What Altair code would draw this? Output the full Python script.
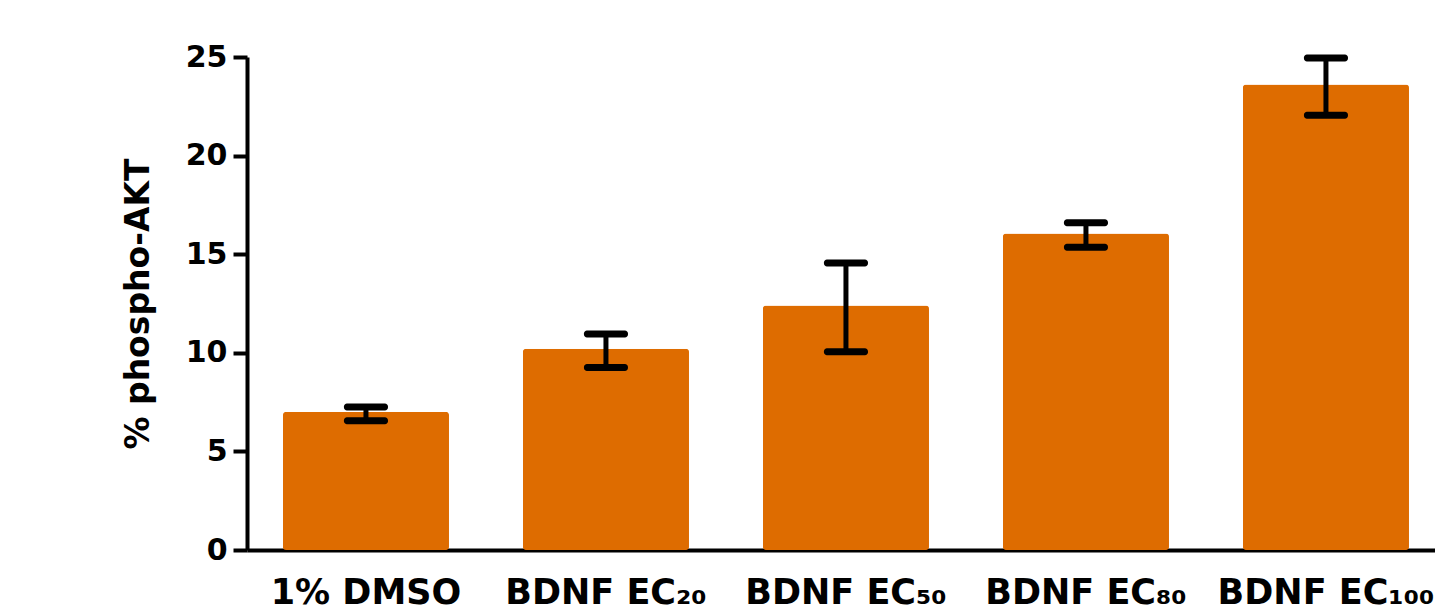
import altair as alt
import pandas as pd

categories = ["1% DMSO", "BDNF EC₂₀", "BDNF EC₅₀", "BDNF EC₈₀", "BDNF EC₁₀₀"]
means = [7.0, 10.2, 12.4, 16.05, 23.6]
err_low = [6.55, 9.25, 10.05, 15.35, 22.05]
err_high = [7.25, 10.95, 14.55, 16.6, 24.95]

df = pd.DataFrame({"cat": categories, "mean": means, "lo": err_low, "hi": err_high})

FONT = "DejaVu Sans"
xscale = alt.Scale(paddingInner=0.308, paddingOuter=0.129, align=0.58)
xenc = alt.X("cat:N", sort=categories, title=None, scale=xscale,
             axis=alt.Axis(labelAngle=0, labelFont=FONT, labelFontSize=35, labelFontWeight="bold",
                           labelColor="black", ticks=False, labelPadding=25, labelLimit=0,
                           domainColor="black", domainWidth=4, labelBaseline="top"))
yscale = alt.Scale(domain=[0, 25], nice=False)

bars = alt.Chart(df).mark_bar(color="#DE6C00", cornerRadius=3).encode(
    x=xenc,
    y=alt.Y("mean:Q", scale=yscale, title="% phospho-AKT",
            axis=alt.Axis(values=[0, 5, 10, 15, 20, 25], grid=False, tickSize=14, tickWidth=4,
                          tickColor="black", domainColor="black", domainWidth=4,
                          labelFont=FONT, labelFontSize=30, labelFontWeight="bold", labelColor="black",
                          labelPadding=6, titleFont=FONT, titleFontSize=33, titleFontWeight="bold",
                          titleColor="black", titlePadding=30)),
)

stems = alt.Chart(df).mark_rule(color="black", strokeWidth=5, opacity=1).encode(
    x=alt.X("cat:N", sort=categories, scale=xscale), y=alt.Y("lo:Q", scale=yscale), y2="hi:Q")

caps_lo = alt.Chart(df).mark_tick(color="black", size=44, thickness=7, cornerRadius=3, opacity=1).encode(
    x=alt.X("cat:N", sort=categories, scale=xscale), y=alt.Y("lo:Q", scale=yscale))
caps_hi = alt.Chart(df).mark_tick(color="black", size=44, thickness=7, cornerRadius=3, opacity=1).encode(
    x=alt.X("cat:N", sort=categories, scale=xscale), y=alt.Y("hi:Q", scale=yscale))

chart = alt.layer(bars, stems, caps_lo, caps_hi).properties(
    width=1188, height=493,
    autosize=alt.AutoSizeParams(type="none"),
    padding={"left": 239, "top": 49, "right": 0, "bottom": 60},
).configure_view(stroke=None)

chart.save("out.html", embed_options={"renderer": "svg", "actions": False})
